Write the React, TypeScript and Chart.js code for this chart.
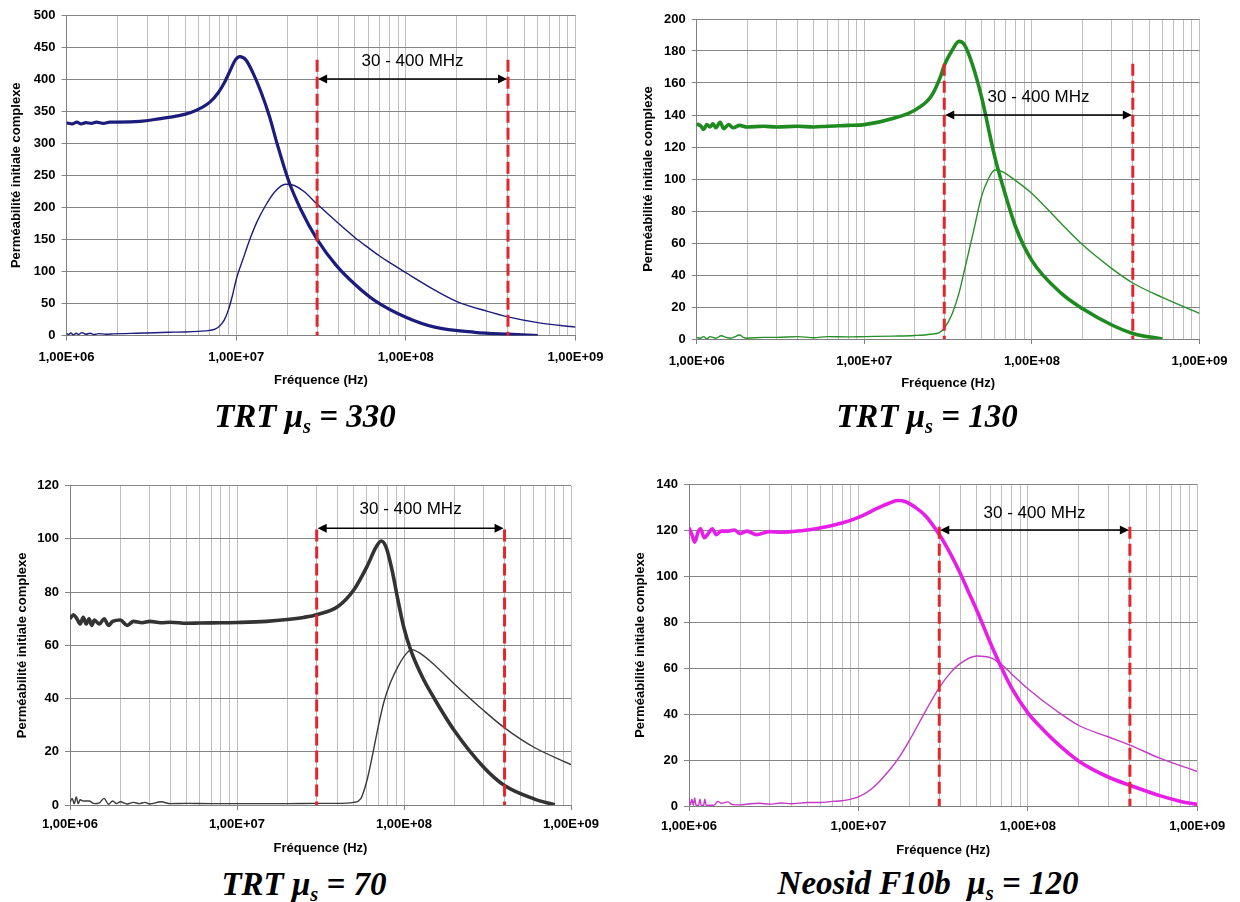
import React, { useEffect, useRef } from 'react';
import { Chart, registerables } from 'chart.js';

Chart.register(...registerables);

// ---------- shared axis data ----------
const X_DECADES = [1e6, 1e7, 1e8, 1e9];
const X_TICK_LABELS = ['1,00E+06', '1,00E+07', '1,00E+08', '1,00E+09'];
const MINOR_STEPS = [1, 2, 3, 4, 5, 6, 7, 8, 9];
const RANGE_HZ = [30e6, 400e6];
const RANGE_LABEL = '30 - 400 MHz';
const X_TITLE = 'Fréquence (Hz)';
const Y_TITLE = 'Perméabilité initiale complexe';

// ---------- chart 1 : TRT mu_s = 330 ----------
const F1_REAL = [1e6, 1.08e6, 1.15e6, 1.22e6, 1.3e6, 1.4e6, 1.5e6, 1.65e6, 1.8e6, 2e6, 2.7e6, 3.5e6, 4.6e6, 5.4e6, 6.3e6, 7e6, 7.8e6, 8.5e6, 9.2e6, 9.9e6, 1.05e7, 1.14e7, 1.26e7, 1.41e7, 1.57e7, 1.74e7, 2.04e7, 2.4e7, 3e7, 3.9e7, 5.1e7, 6.6e7, 1e8, 1.48e8, 2.55e8, 4e8, 6e8];
const MU1_REAL = [332, 330, 333, 330, 332, 331, 333, 331, 333, 333, 334, 338, 343, 348, 356, 364, 378, 394, 413, 430, 435, 430, 409, 378, 342, 300, 241, 197, 150, 109, 78, 54, 28.5, 13, 5, 2, 0];
const F1_IMAG = [1e6, 1.03e6, 1.06e6, 1.1e6, 1.14e6, 1.18e6, 1.23e6, 1.3e6, 1.38e6, 1.45e6, 1.55e6, 1.7e6, 1.9e6, 2.2e6, 2.6e6, 3e6, 4e6, 5e6, 6e6, 7e6, 7.5e6, 8e6, 8.5e6, 9e6, 9.5e6, 1e7, 1.1e7, 1.2e7, 1.33e7, 1.5e7, 1.7e7, 1.95e7, 2.2e7, 2.5e7, 3e7, 4e7, 5e7, 6e7, 7e7, 8e7, 1e8, 1.5e8, 2e8, 3e8, 4e8, 6e8, 1e9];
const MU1_IMAG = [3, 1.5, 4, 1, 3.5, 1.5, 4.5, 2, 3.5, 1.5, 3, 2, 2.5, 3, 3.5, 4, 5, 5.5, 6.5, 8, 10, 15, 24, 40, 62, 87, 120, 149, 178, 204, 225, 236, 234, 225, 205, 175, 153, 137, 124, 114, 98, 70, 53, 38, 29, 20, 13];

// ---------- chart 2 : TRT mu_s = 130 ----------
const F2_REAL = [1e6, 1.06e6, 1.1e6, 1.15e6, 1.2e6, 1.25e6, 1.3e6, 1.38e6, 1.45e6, 1.55e6, 1.65e6, 1.8e6, 2e6, 2.5e6, 3e6, 4e6, 5e6, 6e6, 8e6, 1e7, 1.5e7, 2e7, 2.5e7, 2.85e7, 3e7, 3.35e7, 3.67e7, 3.95e7, 4.4e7, 5e7, 6e7, 7e7, 8e7, 1e8, 1.5e8, 2e8, 3e8, 4e8, 6e8];
const MU2_REAL = [134.5, 133, 131, 134, 132.5, 134.5, 132, 135.5, 131.5, 134, 132, 133.5, 132.5, 133, 132.5, 133, 132.5, 133, 133.5, 134, 138, 143, 151.5, 164, 171, 180.6, 186, 184, 172, 151.5, 114, 89, 70, 49, 28.5, 19, 8.75, 3.5, 0];
const F2_IMAG = [1e6, 1.05e6, 1.1e6, 1.15e6, 1.2e6, 1.3e6, 1.4e6, 1.5e6, 1.6e6, 1.7e6, 1.8e6, 1.9e6, 2e6, 2.5e6, 3e6, 4e6, 5e6, 6e6, 8e6, 1e7, 1.5e7, 2e7, 2.5e7, 2.8e7, 3e7, 3.35e7, 3.67e7, 4e7, 4.5e7, 5e7, 5.5e7, 6e7, 6.6e7, 8e7, 1e8, 1.5e8, 2e8, 3e8, 4e8, 6e8, 1e9];
const MU2_IMAG = [1, 0.5, 1.5, 0, 1.5, 0.5, 2, 1, 0.5, 1.5, 2.5, 1, 0.5, 1, 1, 1.5, 0.8, 1.5, 1.3, 1.5, 1.8, 2.2, 3, 4, 6.7, 16, 28.5, 45, 68, 89, 100, 105.6, 104.8, 99, 91, 72, 59, 44, 35, 26, 16];

// ---------- chart 3 : TRT mu_s = 70 ----------
const F3_REAL = [1e6, 1.05e6, 1.1e6, 1.15e6, 1.2e6, 1.25e6, 1.3e6, 1.35e6, 1.4e6, 1.5e6, 1.6e6, 1.7e6, 1.8e6, 2e6, 2.2e6, 2.4e6, 2.7e6, 3e6, 3.5e6, 4e6, 5e6, 6e6, 8e6, 1e7, 1.5e7, 2e7, 2.5e7, 3e7, 4e7, 5e7, 6e7, 6.8e7, 7.3e7, 7.8e7, 8.5e7, 9.2e7, 9.95e7, 1.1e8, 1.29e8, 1.5e8, 2e8, 3e8, 4e8, 6e8, 8e8];
const MU3_REAL = [70, 71.5, 70, 68, 70.5, 68, 70, 67.5, 69.5, 68, 70, 67.5, 69, 69.5, 67.5, 69, 68.5, 69, 68.5, 68.7, 68.3, 68.4, 68.5, 68.6, 69, 69.7, 70.5, 71.5, 74.5, 80.8, 89.6, 96.9, 99.2, 97, 88, 77, 67, 58, 48, 40.6, 28, 14.2, 7.3, 2.3, 0];
const F3_IMAG = [1e6, 1.03e6, 1.06e6, 1.09e6, 1.12e6, 1.15e6, 1.2e6, 1.3e6, 1.4e6, 1.5e6, 1.6e6, 1.7e6, 1.8e6, 1.9e6, 2e6, 2.2e6, 2.4e6, 2.6e6, 2.8e6, 3e6, 3.5e6, 4e6, 5e6, 7e6, 1e7, 2e7, 3e7, 4e7, 5e7, 5.5e7, 6e7, 6.5e7, 7e7, 7.6e7, 8.3e7, 9.2e7, 1.02e8, 1.11e8, 1.25e8, 1.5e8, 2e8, 3e8, 4e8, 6e8, 1e9];
const MU3_IMAG = [1, 2.5, 0.5, 3, 0.5, 2, 1.5, 1.5, 0.5, 0.8, 2.5, 0.3, 1.5, 0.5, 1.2, 0.4, 1, 0.5, 1, 0.4, 1.2, 0.5, 0.6, 0.5, 0.5, 0.5, 0.6, 0.6, 1, 2.3, 9.2, 19.2, 29.3, 39, 46, 52, 56.5, 58.4, 57, 53, 45.5, 35.5, 29, 21.7, 15.2];

// ---------- chart 4 : Neosid F10b mu_s = 120 ----------
const F4_REAL = [1e6, 1.04e6, 1.08e6, 1.13e6, 1.17e6, 1.23e6, 1.3e6, 1.37e6, 1.45e6, 1.55e6, 1.7e6, 1.85e6, 2e6, 2.2e6, 2.5e6, 3e6, 3.5e6, 4e6, 5e6, 6e6, 7e6, 8e6, 1e7, 1.3e7, 1.5e7, 1.7e7, 1.9e7, 2.2e7, 2.5e7, 3e7, 3.5e7, 4e7, 4.5e7, 5e7, 6e7, 7e7, 8e7, 1e8, 1.2e8, 1.5e8, 2e8, 3e8, 4e8, 6e8, 8e8, 1e9];
const MU4_REAL = [121, 118, 114.7, 119, 120.5, 116.6, 118.5, 120.5, 118, 119.5, 119.5, 120, 118.5, 119.5, 118, 119.3, 119, 119.3, 120, 121, 122, 123, 125.5, 129.5, 131.5, 132.8, 132.3, 129.5, 126, 118, 109.5, 101, 92.5, 85, 71, 60, 51.5, 40.5, 34, 27, 19.5, 12.5, 9, 4.5, 2, 0.7];
const F4_IMAG = [1e6, 1.02e6, 1.04e6, 1.06e6, 1.08e6, 1.1e6, 1.14e6, 1.16e6, 1.18e6, 1.22e6, 1.24e6, 1.26e6, 1.4e6, 1.48e6, 1.55e6, 1.7e6, 1.8e6, 2e6, 2.3e6, 2.6e6, 3e6, 3.5e6, 4e6, 5e6, 6e6, 7e6, 8e6, 1e7, 1.2e7, 1.5e7, 1.75e7, 2e7, 2.5e7, 3e7, 3.5e7, 4e7, 5e7, 6e7, 7e7, 8e7, 1e8, 1.5e8, 2e8, 3e8, 4e8, 6e8, 1e9];
const MU4_IMAG = [3.5, 0.5, 3, 0.3, 3.5, 0.3, 0.3, 3, 0.3, 0.3, 3, 0.3, 0.3, 2, 1.2, 1.8, 0.6, 0.5, 1, 1.2, 0.8, 1.3, 1, 1.5, 1.5, 2, 2.3, 4, 7.5, 15, 21.5, 28.5, 41.5, 51.5, 58, 62, 65.2, 64.5, 61.5, 57.5, 51, 41, 35, 30, 26.5, 20.8, 15];

// ---------- per chart settings ----------
const Y_MAX = [500, 200, 120, 140];
const Y_STEP = [50, 20, 20, 20];
const DASH_TOP = [430, 172, 103.5, 121.4];
const ARROW_Y = [400, 140, 104, 120];
const RANGE_LABEL_Y = [427, 151, 111, 127.4];
const COLOR_REAL = ['#1c1c7c', '#1f8a1f', '#333333', '#e61ee6'];
const COLOR_IMAG = ['#1c1c7c', '#2a8f2a', '#3a3a3a', '#c638c6'];
const TITLE_PREFIX = ['TRT ', 'TRT ', 'TRT ', 'Neosid F10b\u00a0\u00a0'];
const TITLE_VALUE = ['330', '130', '70', '120'];

const SERIES = [
  { fr: F1_REAL, mr: MU1_REAL, fi: F1_IMAG, mi: MU1_IMAG },
  { fr: F2_REAL, mr: MU2_REAL, fi: F2_IMAG, mi: MU2_IMAG },
  { fr: F3_REAL, mr: MU3_REAL, fi: F3_IMAG, mi: MU3_IMAG },
  { fr: F4_REAL, mr: MU4_REAL, fi: F4_IMAG, mi: MU4_IMAG },
];

// layout (pixels)
const PANELS = [
  { left: 0, top: 0, w: 620, h: 400, yW: 66.5, padTop: 15, padRight: 44.5, xH: 64.5, xLabPad: 8.7, xTitlePad: 12.2, yTitlePad: 8.2, realW: 3.2, titleX: 305, titleTop: 400 },
  { left: 620, top: 0, w: 620, h: 400, yW: 76.7, padTop: 19, padRight: 40.5, xH: 61, xLabPad: 9.2, xTitlePad: 9.2, yTitlePad: 20.2, realW: 3.6, titleX: 927, titleTop: 400 },
  { left: 0, top: 460, w: 620, h: 400, yW: 70, padTop: 25.7, padRight: 49, xH: 55, xLabPad: 6.2, xTitlePad: 4.2, yTitlePad: 14.2, realW: 3.6, titleX: 304, titleTop: 868 },
  { left: 620, top: 460, w: 620, h: 400, yW: 69, padTop: 24, padRight: 42.7, xH: 54, xLabPad: 7.7, xTitlePad: 2.2, yTitlePad: 12.2, realW: 3.6, titleX: 928, titleTop: 867 },
];

const GRID_TICKS: number[] = [];
X_DECADES.forEach((d, i) => {
  if (i < X_DECADES.length - 1) MINOR_STEPS.forEach((m) => GRID_TICKS.push(d * m));
  else GRID_TICKS.push(d);
});

const isDecade = (v: number) => X_DECADES.some((d) => Math.abs(d - v) / d < 1e-9);
const FONT_FAMILY = '"Liberation Sans", Arial, Helvetica, sans-serif';

function makeRangePlugin(idx: number) {
  return {
    id: 'rangeMarker' + idx,
    afterDatasetsDraw(chart: any) {
      const ctx = chart.ctx;
      const xs = chart.scales.x;
      const ys = chart.scales.y;
      const x1 = xs.getPixelForValue(RANGE_HZ[0]);
      const x2 = xs.getPixelForValue(RANGE_HZ[1]);
      const y0 = ys.getPixelForValue(0);
      const yTop = ys.getPixelForValue(DASH_TOP[idx]);
      const ya = ys.getPixelForValue(ARROW_Y[idx]);
      ctx.save();
      ctx.strokeStyle = '#e3262b';
      ctx.lineWidth = 3;
      ctx.setLineDash([12, 5]);
      [x1, x2].forEach((x) => {
        ctx.beginPath();
        ctx.moveTo(x, yTop);
        ctx.lineTo(x, y0);
        ctx.stroke();
      });
      ctx.setLineDash([]);
      ctx.strokeStyle = '#000';
      ctx.fillStyle = '#000';
      ctx.lineWidth = 1.5;
      ctx.beginPath();
      ctx.moveTo(x1 + 6, ya);
      ctx.lineTo(x2 - 6, ya);
      ctx.stroke();
      ctx.beginPath();
      ctx.moveTo(x1 + 1, ya);
      ctx.lineTo(x1 + 10, ya - 4.5);
      ctx.lineTo(x1 + 10, ya + 4.5);
      ctx.closePath();
      ctx.fill();
      ctx.beginPath();
      ctx.moveTo(x2 - 1, ya);
      ctx.lineTo(x2 - 10, ya - 4.5);
      ctx.lineTo(x2 - 10, ya + 4.5);
      ctx.closePath();
      ctx.fill();
      ctx.font = '17px ' + FONT_FAMILY;
      ctx.textAlign = 'center';
      ctx.textBaseline = 'middle';
      const xm = xs.getPixelForValue(Math.sqrt(RANGE_HZ[0] * RANGE_HZ[1]));
      ctx.fillText(RANGE_LABEL, xm, ys.getPixelForValue(RANGE_LABEL_Y[idx]));
      ctx.restore();
    },
  };
}

function makeConfig(idx: number): any {
  const p = PANELS[idx];
  const s = SERIES[idx];
  const tickFont = { family: FONT_FAMILY, size: 13, weight: 'bold' as const };
  return {
    type: 'line',
    data: {
      datasets: [
        {
          data: s.fr.map((f, i) => ({ x: f, y: s.mr[i] })),
          borderColor: COLOR_REAL[idx],
          borderWidth: p.realW,
          pointRadius: 0,
          fill: false,
          cubicInterpolationMode: 'monotone',
        },
        {
          data: s.fi.map((f, i) => ({ x: f, y: s.mi[i] })),
          borderColor: COLOR_IMAG[idx],
          borderWidth: 1.4,
          pointRadius: 0,
          fill: false,
          cubicInterpolationMode: 'monotone',
        },
      ],
    },
    options: {
      animation: false,
      responsive: false,
      events: [],
      layout: { autoPadding: false, padding: { left: 0, top: p.padTop, right: p.padRight, bottom: 0 } },
      plugins: { legend: { display: false }, tooltip: { enabled: false }, title: { display: false } },
      scales: {
        x: {
          type: 'logarithmic',
          min: 1e6,
          max: 1e9,
          afterBuildTicks: (scale: any) => {
            scale.ticks = GRID_TICKS.map((v) => ({ value: v, major: isDecade(v) }));
          },
          afterFit: (scale: any) => {
            scale.height = p.xH;
            scale.paddingLeft = 0;
            scale.paddingRight = 0;
            scale.paddingTop = 0;
            scale.paddingBottom = 0;
          },
          ticks: {
            autoSkip: false,
            maxRotation: 0,
            minRotation: 0,
            padding: p.xLabPad,
            color: '#000',
            font: tickFont,
            callback: (v: any) => {
              const i = X_DECADES.findIndex((d) => Math.abs(d - Number(v)) / d < 1e-9);
              return i >= 0 ? X_TICK_LABELS[i] : '';
            },
          },
          grid: {
            color: '#bfbfbf',
            lineWidth: 1,
            tickLength: 5,
            tickColor: (c: any) => (c.tick && isDecade(c.tick.value) ? '#808080' : 'rgba(0,0,0,0)'),
          },
          border: { color: '#7f7f7f', width: 1 },
          title: {
            display: true,
            text: X_TITLE,
            color: '#000',
            font: tickFont,
            padding: { top: 0, bottom: p.xTitlePad },
          },
        },
        y: {
          type: 'linear',
          min: 0,
          max: Y_MAX[idx],
          afterFit: (scale: any) => {
            scale.width = p.yW;
            scale.paddingLeft = 0;
            scale.paddingRight = 0;
            scale.paddingTop = 0;
            scale.paddingBottom = 0;
          },
          ticks: { stepSize: Y_STEP[idx], padding: 6, color: '#000', font: tickFont },
          grid: { color: '#858585', lineWidth: 1, tickLength: 5, tickColor: '#858585' },
          border: { color: '#7f7f7f', width: 1 },
          title: {
            display: true,
            text: Y_TITLE,
            color: '#000',
            font: tickFont,
            padding: { top: p.yTitlePad, bottom: 0 },
          },
        },
      },
    },
    plugins: [makeRangePlugin(idx)],
  };
}

function Panel({ idx }: { idx: number }) {
  const ref = useRef<HTMLCanvasElement | null>(null);
  const p = PANELS[idx];
  useEffect(() => {
    if (!ref.current) return;
    const chart = new Chart(ref.current, makeConfig(idx));
    return () => chart.destroy();
  }, [idx]);
  return (
    <canvas
      ref={ref}
      width={p.w}
      height={p.h}
      style={{ position: 'absolute', left: p.left, top: p.top, width: p.w, height: p.h, display: 'block' }}
    />
  );
}

function Caption({ idx }: { idx: number }) {
  const p = PANELS[idx];
  return (
    <div
      style={{
        position: 'absolute',
        left: p.titleX - 250,
        top: p.titleTop,
        width: 500,
        textAlign: 'center',
        fontFamily: '"Liberation Serif", "Times New Roman", serif',
        fontStyle: 'italic',
        fontWeight: 'bold',
        fontSize: 33,
        lineHeight: '33px',
        whiteSpace: 'pre',
        color: '#000',
      }}
    >
      {TITLE_PREFIX[idx]}μ
      <span style={{ fontSize: '0.62em', position: 'relative', top: '0.3em' }}>s</span>
      {' = ' + TITLE_VALUE[idx]}
    </div>
  );
}

export default function App() {
  return (
    <div style={{ position: 'absolute', left: 0, top: 0, width: 1240, height: 902, background: '#fff', overflow: 'hidden' }}>
      {[0, 1, 2, 3].map((i) => (
        <Panel key={'p' + i} idx={i} />
      ))}
      {[0, 1, 2, 3].map((i) => (
        <Caption key={'c' + i} idx={i} />
      ))}
    </div>
  );
}
